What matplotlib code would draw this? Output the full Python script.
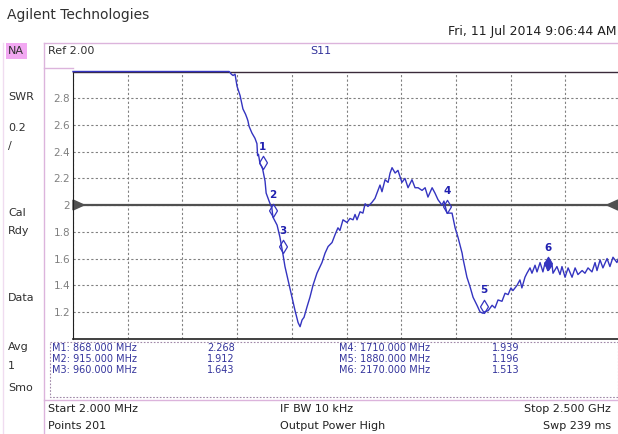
import matplotlib.pyplot as plt
import numpy as np
from matplotlib.path import Path
from matplotlib.patches import Rectangle, Polygon

# S11 trace (MHz, SWR); 3.00 = clipped at top of screen
freq_mhz = [2, 705, 715, 725, 733, 742, 751, 765, 778, 790, 797, 801, 806, 819, 833,
            842, 845, 849, 856, 863, 868, 879, 884, 893, 902, 910, 915, 934, 947, 960,
            970, 984, 1002, 1016, 1030, 1039, 1048, 1057, 1071, 1084, 1098, 1116, 1139,
            1153, 1167, 1185, 1199, 1212, 1221, 1235, 1253, 1267, 1281, 1290, 1299, 1313,
            1326, 1336, 1349, 1367, 1381, 1390, 1404, 1413, 1427, 1441, 1450, 1459, 1473,
            1486, 1504, 1518, 1532, 1550, 1564, 1578, 1596, 1610, 1623, 1642, 1655, 1669,
            1687, 1696, 1710, 1733, 1747, 1760, 1779, 1783, 1801, 1815, 1829, 1847, 1861,
            1875, 1880, 1898, 1916, 1929, 1943, 1961, 1975, 1989, 2002, 2011, 2030, 2043,
            2052, 2066, 2075, 2089, 2098, 2112, 2121, 2135, 2148, 2158, 2170, 2190, 2194,
            2212, 2226, 2235, 2249, 2263, 2281, 2295, 2308, 2327, 2340, 2354, 2372, 2386,
            2395, 2409, 2422, 2441, 2454, 2468, 2486, 2500]
swr = [3.00, 3.00, 3.00, 2.98, 2.97, 2.98, 2.89, 2.82, 2.72, 2.68, 2.65, 2.63, 2.59, 2.54, 2.50,
       2.46, 2.37, 2.38, 2.31, 2.29, 2.27, 2.18, 2.09, 2.05, 2.01, 1.98, 1.91, 1.85, 1.76, 1.64,
       1.54, 1.44, 1.31, 1.21, 1.12, 1.09, 1.14, 1.16, 1.24, 1.31, 1.40, 1.49, 1.57,
       1.64, 1.69, 1.72, 1.78, 1.83, 1.81, 1.89, 1.87, 1.90, 1.89, 1.93, 1.89, 1.95,
       1.94, 2.01, 1.99, 2.02, 2.05, 2.09, 2.15, 2.10, 2.19, 2.17, 2.24, 2.28, 2.24,
       2.26, 2.17, 2.20, 2.13, 2.19, 2.13, 2.13, 2.11, 2.13, 2.06, 2.13, 2.09, 2.04,
       2.00, 2.03, 1.94, 1.94, 1.83, 1.76, 1.64, 1.60, 1.46, 1.39, 1.31, 1.25, 1.20,
       1.19, 1.20, 1.21, 1.25, 1.23, 1.29, 1.28, 1.34, 1.33, 1.38, 1.36, 1.40, 1.44,
       1.38, 1.46, 1.49, 1.53, 1.49, 1.55, 1.50, 1.57, 1.50, 1.57, 1.51, 1.55, 1.49,
       1.54, 1.48, 1.54, 1.46, 1.53, 1.46, 1.53, 1.48, 1.51, 1.49, 1.53, 1.50, 1.57,
       1.51, 1.59, 1.53, 1.60, 1.54, 1.61, 1.57, 1.63]

marker_ids = [1, 2, 3, 4, 5, 6]
marker_freq = [868, 915, 960, 1710, 1880, 2170]
marker_swr = [2.268, 1.912, 1.643, 1.939, 1.196, 1.513]

swr_ticks = [1.2, 1.4, 1.6, 1.8, 2.0, 2.2, 2.4, 2.6, 2.8]
swr_tick_labels = ["1.2", "1.4", "1.6", "1.8", "2", "2.2", "2.4", "2.6", "2.8"]

side_labels = ["NA", "SWR", "0.2", "/", "Cal", "Rdy", "Data", "Avg", "1", "Smo"]
side_y = [51, 97, 128, 146, 213, 231, 298, 347, 366, 388]

W, H = 618, 434
blue = "#3434c0"
txtblue = "#34349c"
pink = "#dcb4dc"

fig = plt.figure(figsize=(W / 100, H / 100), dpi=100)

# background layer in pixel coordinates
bg = fig.add_axes([0, 0, 1, 1], zorder=0)
bg.set_xlim(0, W)
bg.set_ylim(H, 0)
bg.axis("off")

bg.text(7, 15, "Agilent Technologies", fontsize=10, color="#303030", va="center")
bg.text(617, 31, "Fri, 11 Jul 2014 9:06:44 AM", fontsize=9, color="#202020", va="center", ha="right")

bg.add_patch(Rectangle((6, 43), 21, 16, color="#f2a8f2", lw=0))
for lab, yy in zip(side_labels, side_y):
    bg.text(8, yy, lab, fontsize=8, color="#303030", va="center")

bg.plot([44, 618], [43, 43], color=pink, lw=1)
bg.plot([44, 73], [68, 68], color=pink, lw=1)
bg.plot([44, 44], [43, 434], color=pink, lw=1)
bg.plot([3, 3], [43, 434], color="#f0dcf0", lw=1)
bg.text(48, 51, "Ref 2.00", fontsize=8, color="#303030", va="center")
bg.text(310, 51, "S11", fontsize=8, color=txtblue, va="center")

# marker table
bg.plot([50, 618, 618, 50, 50], [342, 342, 397, 397, 342], color="#a088a8", lw=0.8, ls=(0, (1.5, 1.5)))
bg.plot([44, 618], [400, 400], color=pink, lw=1)
for i in range(3):
    yy = 348 + i * 11
    bg.text(52, yy, f"M{marker_ids[i]}: {marker_freq[i]:.3f} MHz", fontsize=7, color=txtblue, va="center")
    bg.text(207, yy, f"{marker_swr[i]:.3f}", fontsize=7, color=txtblue, va="center")
    bg.text(339, yy, f"M{marker_ids[i+3]}: {marker_freq[i+3]:.3f} MHz", fontsize=7, color=txtblue, va="center")
    bg.text(492, yy, f"{marker_swr[i+3]:.3f}", fontsize=7, color=txtblue, va="center")

bg.text(48, 409, "Start 2.000 MHz", fontsize=8, color="#202020", va="center")
bg.text(48, 426, "Points 201", fontsize=8, color="#202020", va="center")
bg.text(280, 409, "IF BW 10 kHz", fontsize=8, color="#202020", va="center")
bg.text(280, 426, "Output Power High", fontsize=8, color="#202020", va="center")
bg.text(611, 409, "Stop 2.500 GHz", fontsize=8, color="#202020", va="center", ha="right")
bg.text(611, 426, "Swp 239 ms", fontsize=8, color="#202020", va="center", ha="right")

# reference level triangles
bg.add_patch(Polygon([(73, 200), (84, 205), (73, 210)], color="#505050", zorder=5))
bg.add_patch(Polygon([(618, 200), (607, 205), (618, 210)], color="#505050", zorder=5))

# main trace axes
left, right, top, bottom = 73, 620, 71.5, 338.7
ax = fig.add_axes([left / W, (H - bottom) / H, (right - left) / W, (bottom - top) / H], zorder=1)
ax.patch.set_visible(False)
ax.set_xlim(2, 2500)
ax.set_ylim(1.0, 3.0)

ax.set_xticks(np.linspace(2, 2500, 11))
ax.set_xticklabels([])
ax.set_yticks(swr_ticks)
ax.set_yticklabels(swr_tick_labels)
ax.tick_params(length=0, labelsize=7.5, labelcolor="#808080", pad=2)
ax.tick_params(axis="x", length=0)
ax.grid(True, color="#808080", ls=(0, (2, 2)), lw=0.8)

ax.spines["right"].set_visible(False)
ax.spines["left"].set_color("#202020")
ax.spines["bottom"].set_color("#202020")
ax.spines["bottom"].set_linewidth(1.2)
ax.spines["top"].set_color("#3a2a3a")
ax.spines["top"].set_linewidth(1.0)

ax.axhline(2.0, color="#505050", lw=1.6, zorder=2)

ax.plot(freq_mhz, swr, color=blue, lw=1.0, clip_on=False, zorder=4)

# marker diamonds sitting on the trace, numbers above
diamond = Path([(0, 0), (0.6, 1), (0, 2), (-0.6, 1), (0, 0)],
               [Path.MOVETO, Path.LINETO, Path.LINETO, Path.LINETO, Path.CLOSEPOLY])
for mid, f, v in zip(marker_ids, marker_freq, marker_swr):
    face = blue if mid == 6 else "none"
    ax.plot([f], [v], marker=diamond, ms=19, mfc=face, mec=blue, mew=0.9, ls="none", zorder=5)
    ax.annotate(str(mid), (f, v), xytext=(0, 16), textcoords="offset points",
                ha="center", va="center", fontsize=7.5, fontweight="bold", color="#2020b0", zorder=6)

fig.savefig("out.png", dpi=100)
